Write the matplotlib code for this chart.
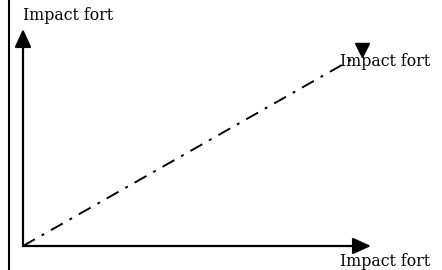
import matplotlib
matplotlib.use("Agg")
import matplotlib.pyplot as plt

# diagram: two axes (impact) and a diagonal trend line
labels = ["Impact fort", "Impact fort", "Impact fort"]
origin = (23, 246)
x_end = (371, 246)
y_end = (23, 29)
diag_end = (356, 57)
tri_pos = (362, 50)

W, H = 442, 270
fig = plt.figure(figsize=(W / 100, H / 100), dpi=100)
ax = fig.add_axes([0, 0, 1, 1])
ax.set_xlim(0, W)
ax.set_ylim(H, 0)
ax.axis("off")

# left frame line
ax.plot([9, 9], [0, H], color="black", lw=1.5, solid_capstyle="butt")

arrow = dict(arrowstyle="-|>,head_length=1.1,head_width=0.5", color="black", lw=1.6,
             shrinkA=0, shrinkB=0)
ax.annotate("", xy=x_end, xytext=origin, arrowprops=arrow)
ax.annotate("", xy=y_end, xytext=origin, arrowprops=arrow)

# dash-dot diagonal
ax.plot([origin[0], diag_end[0]], [origin[1], diag_end[1]], color="black", lw=1.4,
        linestyle=(0, (7, 4, 1.5, 4)))
ax.plot([tri_pos[0]], [tri_pos[1]], marker="v", color="black", markersize=10)

font = dict(family="DejaVu Serif", fontsize=11.3, color="black")
ax.text(23, 15, labels[0], ha="left", va="center", **font)
ax.text(340, 62, labels[1], ha="left", va="center", **font)
ax.text(340, 261, labels[2], ha="left", va="center", **font)

fig.savefig("out.png", dpi=100)
